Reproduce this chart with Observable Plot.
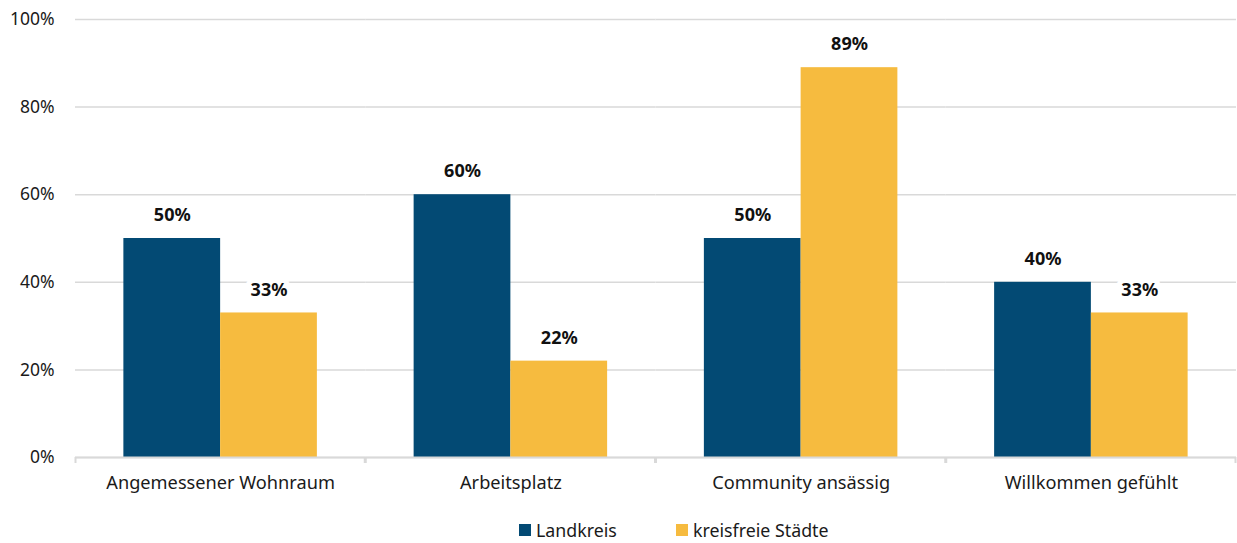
<!DOCTYPE html>
<html>
<head>
<meta charset="utf-8">
<script src="https://cdn.jsdelivr.net/npm/d3@7"></script>
<script src="https://cdn.jsdelivr.net/npm/@observablehq/plot@0.6"></script>
<style>
  body { margin: 0; background: #fff; font-family: "Noto Sans", sans-serif; }
  #legend { position: relative; height: 43px; font-size: 17.8px; color: #1a1a1a; }
  .item { position: absolute; top: 19px; display: flex; align-items: center; line-height: 22px; }
  .sw { width: 12px; height: 12px; margin-right: 5px; display: inline-block; }
</style>
</head>
<body>
<div id="chart"></div>
<div id="legend"></div>
<script>
const categories = ["Angemessener Wohnraum", "Arbeitsplatz", "Community ansässig", "Willkommen gefühlt"];
const series = ["Landkreis", "kreisfreie Städte"];
const landkreis = [50, 60, 50, 40];
const kreisfreie = [33, 22, 89, 33];
const yTicks = [0, 20, 40, 60, 80, 100];
const colors = ["#034a74", "#f6bb3f"];

const data = categories.flatMap((c, i) => [
  {category: c, series: series[0], value: landkreis[i]},
  {category: c, series: series[1], value: kreisfreie[i]}
]);

const W = 1237, H = 500, ML = 75, MR = 1;
const half = (W - ML - MR) / categories.length / 2;

const chart = Plot.plot({
  width: W, height: H,
  marginLeft: ML, marginRight: MR, marginTop: 19, marginBottom: 43,
  style: {fontFamily: "Noto Sans", fontSize: "17px", color: "#1a1a1a", background: "#fff"},
  fx: {domain: categories, padding: 0, label: null, round: false},
  x: {domain: series, paddingInner: 0, paddingOuter: 0.5, axis: null, round: false},
  y: {domain: [0, 100], label: null},
  color: {domain: series, range: colors},
  marks: [
    Plot.gridY(yTicks, {stroke: "#d9d9d9", strokeOpacity: 1, strokeWidth: 1.5}),
    Plot.axisY(yTicks, {tickSize: 0, tickPadding: 21, tickFormat: d => d + "%", label: null, fill: "#1a1a1a", fontSize: 17.5}),
    Plot.barY(data, {fx: "category", x: "series", y: "value", fill: "series"}),
    Plot.ruleY([0], {stroke: "#d9d9d9", strokeWidth: 2}),
    Plot.axisFx({anchor: "bottom", tickSize: 0, tickPadding: 19, label: null, fill: "#1a1a1a", fontSize: 18.2}),
    Plot.axisFx({anchor: "bottom", text: null, tickSize: 6, dx: -half, stroke: "#d9d9d9", strokeWidth: 2, strokeOpacity: 1, label: null}),
    Plot.axisFx([categories[categories.length - 1]], {anchor: "bottom", text: null, tickSize: 6, dx: half - 1, stroke: "#d9d9d9", strokeWidth: 2, strokeOpacity: 1, label: null}),
    Plot.text(data, {fx: "category", x: "series", y: "value", text: d => d.value + "%", dy: -23,
      fontWeight: "bold", fontSize: 18, fill: "#111", stroke: "white", strokeWidth: 10})
  ]
});
document.getElementById("chart").appendChild(chart);

const legend = document.getElementById("legend");
const lefts = [519, 676];
series.forEach((s, i) => {
  const it = document.createElement("div");
  it.className = "item";
  it.style.left = lefts[i] + "px";
  it.innerHTML = `<span class="sw" style="background:${colors[i]}"></span><span>${s}</span>`;
  legend.appendChild(it);
});
</script>
</body>
</html>
